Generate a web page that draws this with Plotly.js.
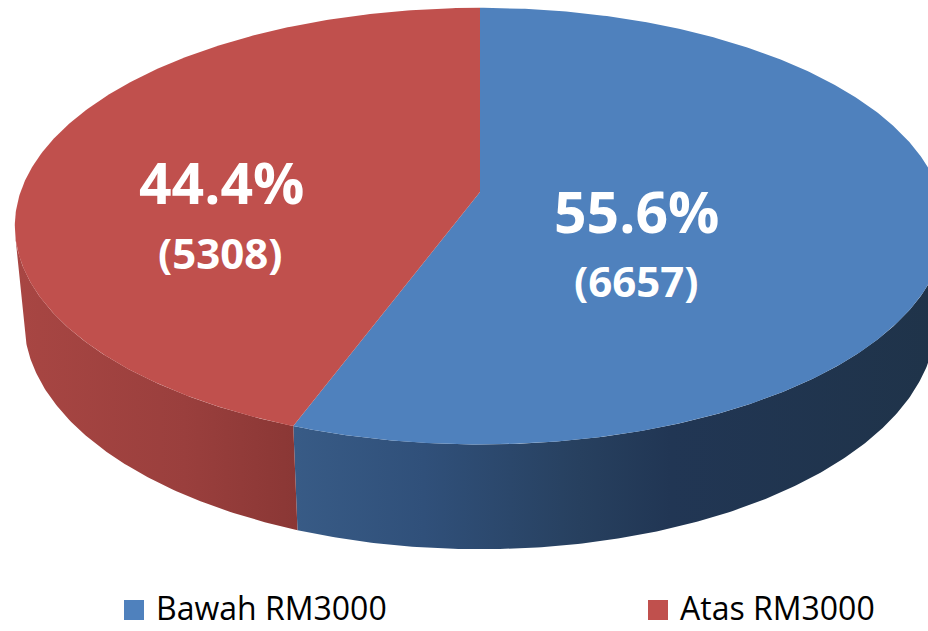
<!DOCTYPE html>
<html>
<head>
<meta charset="utf-8">
<script src="https://cdn.plot.ly/plotly-3.0.1.min.js"></script>
<style>html,body{margin:0;padding:0;background:#fff;}#chart{width:928px;height:631px;}</style>
</head>
<body>
<div id="chart"></div>
<script>
// ---- data ----
const categories = ['Bawah RM3000', 'Atas RM3000'];
const counts = [6657, 5308];
const percentLabels = ['55.6%', '44.4%'];
const countLabels = ['(6657)', '(5308)'];
const topColors = ['#4F81BD', '#C0504D'];

// ---- 3D pie projection (perspective) ----
const W = 928, H = 631;
const CX = 480, CY = 192;
const ALPHA = 28 * Math.PI / 180;
const S = Math.sin(ALPHA), C = Math.cos(ALPHA);
const D = 5.65, FX = 2596, FY = 2563, TH = 0.2385;

function proj(u, v, Y) {
  const yc = -v * S + Y * C;
  const zc = D - v * C - Y * S;
  return [CX + FX * u / zc, CY - FY * yc / zc];
}
function rimPoint(deg, Y) {
  const t = deg * Math.PI / 180;
  return proj(Math.sin(t), -Math.cos(t), Y);
}
function arc(a0, a1, Y) {
  const pts = [];
  const n = Math.max(2, Math.ceil(Math.abs(a1 - a0) / 0.5));
  for (let i = 0; i <= n; i++) pts.push(rimPoint(a0 + (a1 - a0) * i / n, Y));
  return pts;
}

const total = counts.reduce((a, b) => a + b, 0);
const bounds = [];
let acc = 0;
counts.forEach(c => { const a0 = acc / total * 360; acc += c; bounds.push([a0, acc / total * 360]); });

const vs = 1 / (D * C);
const silL = Math.acos(-vs) * 180 / Math.PI;
const silR = 360 - silL;

const wallScales = [
  [[0, '#385B86'], [0.2, '#30507A'], [0.44, '#27405F'], [0.58, '#213654'], [1, '#1F3349']],
  [[0, '#A84643'], [0.6, '#9A3F3D'], [1, '#8A3735']]
];

const traces = [];
// side walls
bounds.forEach((b, i) => {
  const a0 = Math.max(b[0], silL), a1 = Math.min(b[1], silR);
  if (a1 <= a0) return;
  const top = arc(a0, a1, 0);
  const bot = arc(a1, a0, -TH);
  const pts = top.concat(bot);
  pts.push(top[0]);
  traces.push({
    type: 'scatter', mode: 'lines', x: pts.map(p => p[0]), y: pts.map(p => p[1]),
    fill: 'toself', line: {width: 0, color: 'rgba(0,0,0,0)'},
    fillgradient: {type: 'horizontal', colorscale: wallScales[i]},
    hoverinfo: 'skip', showlegend: false
  });
});
// top faces
bounds.forEach((b, i) => {
  const c = proj(0, 0, 0);
  const pts = [c].concat(arc(b[0], b[1], 0));
  pts.push(c);
  traces.push({
    type: 'scatter', mode: 'lines', x: pts.map(p => p[0]), y: pts.map(p => p[1]),
    fill: 'toself', fillcolor: topColors[i], line: {width: 0, color: topColors[i]},
    name: categories[i], hoverinfo: 'name', showlegend: false
  });
});

const labelFont = (sz) => ({family: 'Open Sans, sans-serif', size: sz, color: '#FFFFFF', weight: 700});
const annPos = [
  {px: [636, 211], cx: [636, 280]},
  {px: [221, 182], cx: [220, 252]}
];
const annotations = [];
percentLabels.forEach((t, i) => {
  annotations.push({x: annPos[i].px[0], y: annPos[i].px[1], xref: 'x', yref: 'y', text: '<b>' + t + '</b>',
    showarrow: false, font: labelFont(57), xanchor: 'center', yanchor: 'middle'});
  annotations.push({x: annPos[i].cx[0], y: annPos[i].cx[1], xref: 'x', yref: 'y', text: '<b>' + countLabels[i] + '</b>',
    showarrow: false, font: labelFont(42), xanchor: 'center', yanchor: 'middle'});
});

// legend (squares + text)
const legendX = [124, 648];
const shapes = [];
categories.forEach((name, i) => {
  shapes.push({type: 'rect', xref: 'x', yref: 'y', x0: legendX[i], x1: legendX[i] + 20, y0: 600, y1: 620,
    fillcolor: topColors[i], line: {width: 0}});
  annotations.push({x: legendX[i] + 31, y: 630, xref: 'x', yref: 'y', text: name, showarrow: false,
    xanchor: 'left', yanchor: 'bottom', borderpad: 0,
    font: {family: 'Open Sans, sans-serif', size: 32, color: '#000000'}});
});

const layout = {
  width: W, height: H,
  margin: {l: 0, r: 0, t: 0, b: 0, pad: 0},
  paper_bgcolor: '#FFFFFF', plot_bgcolor: '#FFFFFF',
  xaxis: {range: [0, W], visible: false, fixedrange: true},
  yaxis: {range: [H, 0], visible: false, fixedrange: true},
  showlegend: false,
  annotations: annotations,
  shapes: shapes
};

Plotly.newPlot('chart', traces, layout, {displayModeBar: false, staticPlot: true});
</script>
</body>
</html>
